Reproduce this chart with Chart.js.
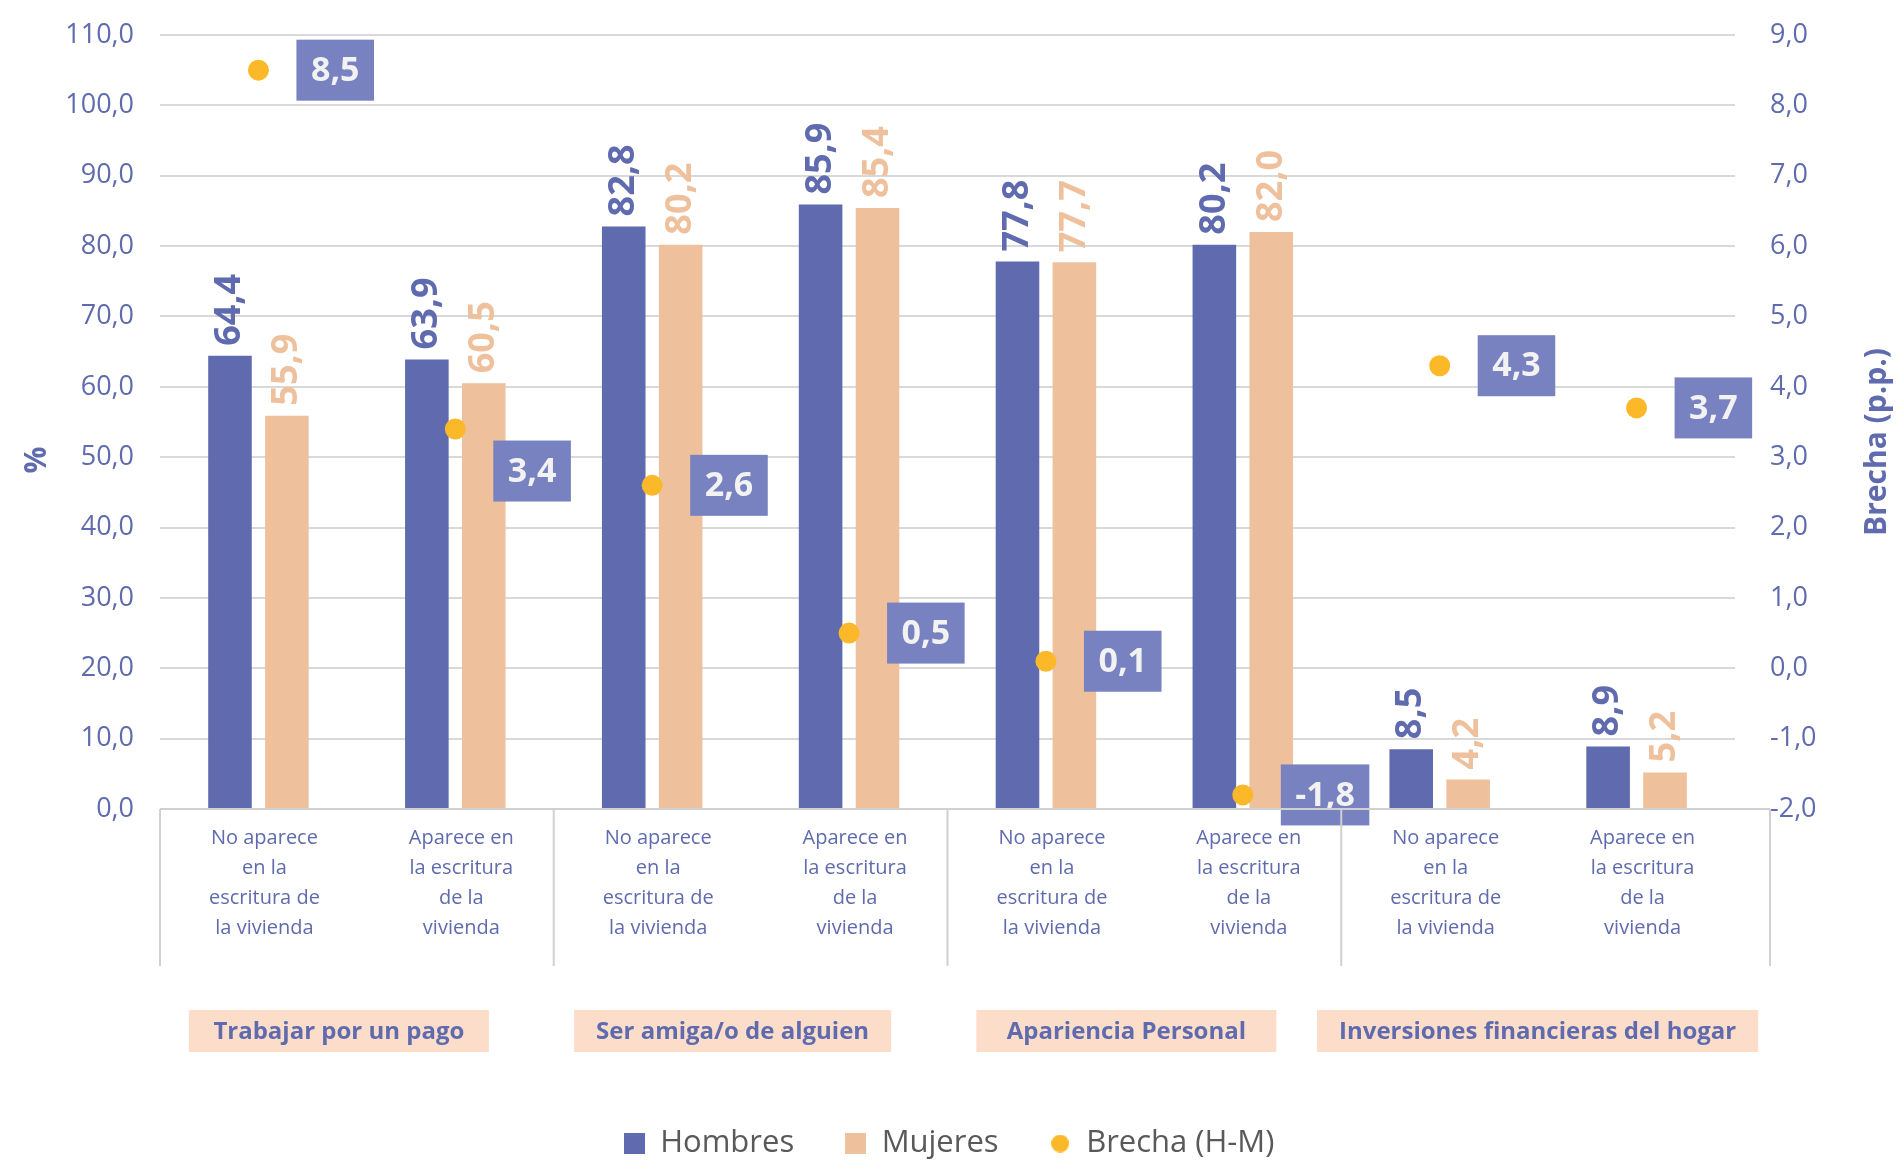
<!DOCTYPE html>
<html lang="es">
<head>
<meta charset="utf-8">
<title>Brecha de género según aparición en la escritura de la vivienda</title>
<script src="https://cdn.jsdelivr.net/npm/chart.js@4.4.1/dist/chart.umd.min.js"></script>
<style>
  html, body { margin: 0; padding: 0; background: #fff; }
  #wrap { width: 1898px; height: 1160px; }
</style>
</head>
<body>
<div id="wrap"><canvas id="grafico" width="1898" height="1160"></canvas></div>
<script>
// datos
const grupos = ['Trabajar por un pago', 'Ser amiga/o de alguien', 'Apariencia Personal', 'Inversiones financieras del hogar'];
const noAparece = ['No aparece', 'en la', 'escritura de', 'la vivienda'];
const aparece = ['Aparece en', 'la escritura', 'de la', 'vivienda'];
const categorias = grupos.flatMap(() => [noAparece, aparece]);

const hombres = [64.4, 63.9, 82.8, 85.9, 77.8, 80.2, 8.5, 8.9];
const mujeres = [55.9, 60.5, 80.2, 85.4, 77.7, 82.0, 4.2, 5.2];
const brecha  = [8.5, 3.4, 2.6, 0.5, 0.1, -1.8, 4.3, 3.7];

const ticksPct = [0, 110, 10];     // min, max, paso
const ticksBrecha = [-2, 9, 1];

const AZUL = '#5f6bae';
const SALMON = '#eec09c';
const AMARILLO = '#fbb929';

Chart.defaults.font.family = "'Open Sans', sans-serif";

const fmt = v => Number(v).toFixed(1).replace('.', ',');

// iconos de la leyenda
function icono(color, circulo) {
  const c = document.createElement('canvas');
  const s = circulo ? 18 : 21;
  c.width = c.height = s;
  const g = c.getContext('2d');
  g.fillStyle = color;
  if (circulo) {
    g.beginPath();
    g.arc(s / 2, s / 2, s / 2, 0, Math.PI * 2);
    g.fill();
  } else {
    g.fillRect(0, 0, s, s);
  }
  return c;
}
const iconos = [icono(AZUL, false), icono(SALMON, false), icono(AMARILLO, true)];

// los ejes verticales no reservan hueco extra arriba/abajo
function ajustarEje(ancho) {
  return s => {
    s.width = ancho;
    s.paddingTop = 0;
    s.paddingBottom = 0;
  };
}

// valores encima de las barras y cajas de la brecha
const etiquetas = {
  id: 'etiquetas',
  afterDatasetsDraw(chart, args, opts) {
    const ctx = chart.ctx;
    ctx.save();
    ctx.font = 'bold 36px "Open Sans"';
    ctx.textAlign = 'left';
    ctx.textBaseline = 'middle';
    [0, 1].forEach(i => {
      const ds = chart.data.datasets[i];
      chart.getDatasetMeta(i).data.forEach((bar, j) => {
        ctx.save();
        ctx.translate(bar.x, bar.y - 10);
        ctx.rotate(-Math.PI / 2);
        ctx.fillStyle = ds.backgroundColor;
        ctx.fillText(fmt(ds.data[j]), 0, 0);
        ctx.restore();
      });
    });

    ctx.font = 'bold 34px "Open Sans"';
    ctx.textAlign = 'center';
    const ds = chart.data.datasets[2];
    chart.getDatasetMeta(2).data.forEach((pt, j) => {
      const txt = fmt(ds.data[j]);
      const w = ctx.measureText(txt).width + 29;
      const h = 61;
      const x0 = pt.x + 38;
      const cy = pt.y + (opts.desplazar[j] || 0);
      ctx.fillStyle = '#7882c0';
      ctx.fillRect(x0, cy - h / 2, w, h);
      ctx.fillStyle = '#f2f2f2';
      ctx.fillText(txt, x0 + w / 2, cy + 1);
    });
    ctx.restore();
  }
};

// marco del eje de categorías, grupos y títulos de los ejes
const marco = {
  id: 'marco',
  afterDraw(chart) {
    const {ctx, chartArea: a} = chart;
    const paso = (a.right - a.left) / chart.data.labels.length;
    const bordes = [];
    for (let g = 0; g <= grupos.length; g++) bordes.push(a.left + g * 2 * paso);
    bordes[bordes.length - 1] += 35;

    ctx.save();
    ctx.strokeStyle = '#d0d0d0';
    ctx.lineWidth = 2;
    ctx.beginPath();
    ctx.moveTo(a.left, a.bottom);
    ctx.lineTo(bordes[bordes.length - 1], a.bottom);
    bordes.forEach(bx => {
      ctx.moveTo(bx, a.bottom);
      ctx.lineTo(bx, a.bottom + 157);
    });
    ctx.stroke();

    ctx.font = 'bold 24px "Open Sans"';
    ctx.textAlign = 'center';
    ctx.textBaseline = 'middle';
    grupos.forEach((g, i) => {
      const cx = (bordes[i] + bordes[i + 1]) / 2 - 18;
      const w = Math.max(ctx.measureText(g).width + 44, 300);
      ctx.fillStyle = '#fcddc9';
      ctx.fillRect(cx - w / 2, a.bottom + 201, w, 42);
      ctx.fillStyle = AZUL;
      ctx.fillText(g, cx, a.bottom + 223);
    });

    const medio = (a.top + a.bottom) / 2;
    ctx.font = 'bold 30px "Open Sans"';
    ctx.fillStyle = AZUL;

    ctx.save();
    ctx.translate(37, medio + 38);
    ctx.rotate(-Math.PI / 2);
    ctx.fillText('%', 0, 0);
    ctx.restore();

    ctx.translate(chart.scales.y2.right - 21, medio + 20);
    ctx.rotate(-Math.PI / 2);
    ctx.fillText('Brecha (p.p.)', 0, 0);
    ctx.restore();
  }
};

new Chart(document.getElementById('grafico'), {
  type: 'bar',
  data: {
    labels: categorias,
    datasets: [
      {
        label: 'Hombres',
        data: hombres,
        backgroundColor: AZUL,
        yAxisID: 'y',
        order: 1,
        categoryPercentage: 0.578,
        barPercentage: 0.766
      },
      {
        label: 'Mujeres',
        data: mujeres,
        backgroundColor: SALMON,
        yAxisID: 'y',
        order: 1,
        categoryPercentage: 0.578,
        barPercentage: 0.766
      },
      {
        type: 'line',
        label: 'Brecha (H-M)',
        data: brecha,
        yAxisID: 'y2',
        order: 0,
        showLine: false,
        pointRadius: 10.5,
        pointBorderWidth: 0,
        pointBackgroundColor: AMARILLO,
        backgroundColor: AMARILLO
      }
    ]
  },
  options: {
    responsive: false,
    animation: false,
    layout: { padding: { top: 35, bottom: -9, left: 0, right: 0 } },
    plugins: {
      tooltip: { enabled: false },
      legend: {
        position: 'bottom',
        labels: {
          usePointStyle: true,
          boxWidth: 21,
          boxHeight: 21,
          padding: 51,
          color: '#595959',
          font: { size: 31 },
          sort: (a, b) => a.datasetIndex - b.datasetIndex,
          generateLabels(chart) {
            const items = Chart.defaults.plugins.legend.labels.generateLabels(chart);
            items.forEach(it => { it.pointStyle = iconos[it.datasetIndex]; });
            return items;
          }
        }
      },
      etiquetas: { desplazar: [0, 42, 0, 0, 0, 0, 0, 0] }
    },
    scales: {
      x: {
        grid: { display: false, drawTicks: false },
        border: { display: false },
        ticks: {
          color: AZUL,
          font: { size: 20, lineHeight: 1.5 },
          padding: 14,
          labelOffset: 6,
          maxRotation: 0,
          autoSkip: false
        },
        afterFit(s) { s.height = 268; }
      },
      y: {
        position: 'left',
        min: ticksPct[0],
        max: ticksPct[1],
        ticks: { stepSize: ticksPct[2], callback: v => fmt(v), color: AZUL, font: { size: 27 }, padding: 26 },
        grid: { color: '#d9d9d9', lineWidth: 2, drawTicks: false },
        border: { display: false },
        afterFit: ajustarEje(160)
      },
      y2: {
        position: 'right',
        min: ticksBrecha[0],
        max: ticksBrecha[1],
        ticks: { stepSize: ticksBrecha[2], callback: v => fmt(v), color: AZUL, font: { size: 27 }, padding: 35 },
        grid: { display: false, drawTicks: false },
        border: { display: false },
        afterFit: ajustarEje(163)
      }
    }
  },
  plugins: [etiquetas, marco]
});
</script>
</body>
</html>
